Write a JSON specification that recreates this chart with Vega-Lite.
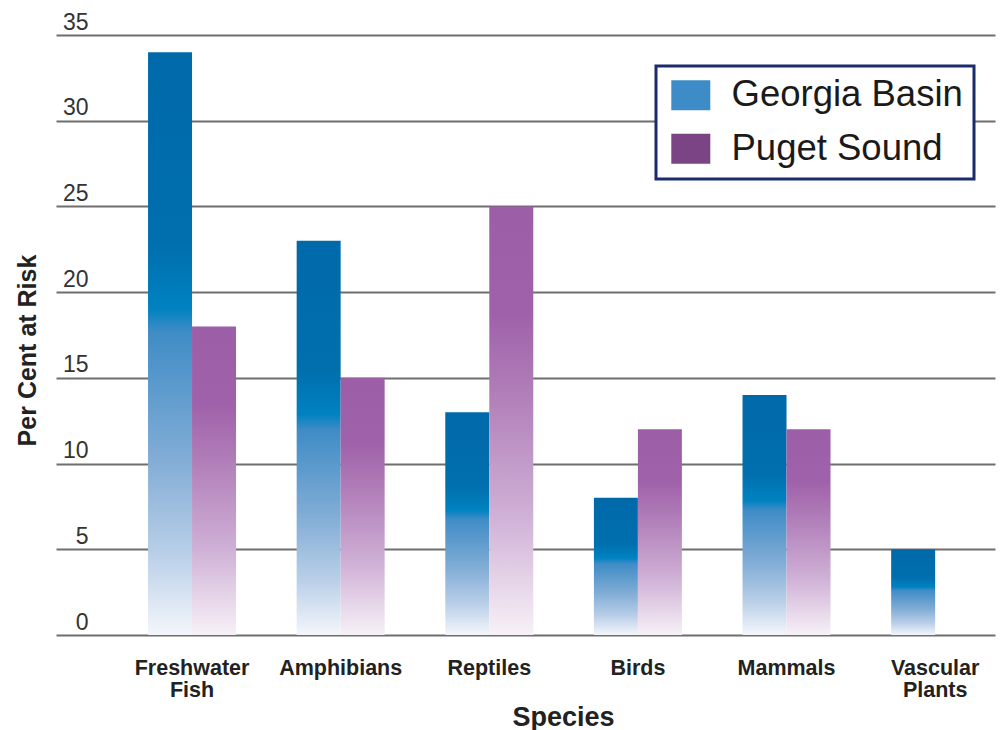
{
  "$schema": "https://vega.github.io/schema/vega-lite/v6.json",
  "width": 939,
  "height": 600,
  "autosize": {"type": "none"},
  "padding": {"left": 56, "top": 35, "right": 8, "bottom": 95},
  "background": "white",
  "config": {"view": {"stroke": null}, "font": "Liberation Sans"},
  "data": {
    "values": [
      {"species": "Freshwater Fish", "region": "Georgia Basin", "pct": 34},
      {"species": "Freshwater Fish", "region": "Puget Sound", "pct": 18},
      {"species": "Amphibians", "region": "Georgia Basin", "pct": 23},
      {"species": "Amphibians", "region": "Puget Sound", "pct": 15},
      {"species": "Reptiles", "region": "Georgia Basin", "pct": 13},
      {"species": "Reptiles", "region": "Puget Sound", "pct": 25},
      {"species": "Birds", "region": "Georgia Basin", "pct": 8},
      {"species": "Birds", "region": "Puget Sound", "pct": 12},
      {"species": "Mammals", "region": "Georgia Basin", "pct": 14},
      {"species": "Mammals", "region": "Puget Sound", "pct": 12},
      {"species": "Vascular Plants", "region": "Georgia Basin", "pct": 5}
    ]
  },
  "encoding": {
    "x": {
      "field": "species",
      "type": "nominal",
      "sort": ["Freshwater Fish", "Amphibians", "Reptiles", "Birds", "Mammals", "Vascular Plants"],
      "scale": {"paddingInner": 0.408, "paddingOuter": 0.363, "align": 0.853},
      "axis": {
        "title": "Species",
        "labelExpr": "split(datum.label, ' ')",
        "labelAngle": 0,
        "labelFontSize": 21.5,
        "labelFontWeight": "bold",
        "labelColor": "#222222",
        "labelPadding": 22,
        "labelBaseline": "top",
        "labelLineHeight": 22,
        "labelOverlap": false,
        "labelLimit": 300,
        "domain": false,
        "ticks": false,
        "tickSize": 0,
        "grid": false,
        "titleFontSize": 27,
        "titleFontWeight": "bold",
        "titleColor": "#222222",
        "titleX": 507,
        "titleY": 82,
        "titleBaseline": "middle",
        "titleAlign": "center"
      }
    },
    "xOffset": {
      "field": "region",
      "type": "nominal",
      "scale": {"domain": ["Georgia Basin", "Puget Sound"], "paddingInner": 0, "paddingOuter": 0}
    },
    "y": {
      "field": "pct",
      "type": "quantitative",
      "scale": {"domain": [0, 35], "nice": false},
      "axis": {
        "title": "Per Cent at Risk",
        "values": [0, 5, 10, 15, 20, 25, 30, 35],
        "grid": true,
        "gridColor": "#6e6e6e",
        "gridWidth": 2,
        "domain": false,
        "ticks": false,
        "tickSize": 0,
        "labelAlign": "right",
        "labelBaseline": "alphabetic",
        "labelPadding": -32,
        "labelOffset": -6,
        "labelFlush": false,
        "labelFontSize": 23,
        "labelColor": "#333333",
        "titleFontSize": 25,
        "titleFontWeight": "bold",
        "titleColor": "#222222",
        "titleX": -29,
        "titleY": 315,
        "titleAngle": -90,
        "titleBaseline": "middle",
        "titleAlign": "center"
      }
    }
  },
  "layer": [
    {
      "mark": {"type": "bar"},
      "encoding": {
        "color": {
          "condition": {
            "test": "datum.region === 'Georgia Basin'",
            "value": {
              "gradient": "linear", "x1": 0, "y1": 0, "x2": 0, "y2": 1,
              "stops": [
                {"offset": 0, "color": "#0069a9"},
                {"offset": 0.33, "color": "#006fae"},
                {"offset": 0.44, "color": "#0082c1"},
                {"offset": 0.48, "color": "#3f8cc6"},
                {"offset": 0.7, "color": "#82add6"},
                {"offset": 0.86, "color": "#b9cfe8"},
                {"offset": 1, "color": "#f4f6fb"}
              ]
            }
          },
          "value": {
            "gradient": "linear", "x1": 0, "y1": 0, "x2": 0, "y2": 1,
            "stops": [
              {"offset": 0, "color": "#9c5ea7"},
              {"offset": 0.25, "color": "#9f61a9"},
              {"offset": 0.43, "color": "#b07db8"},
              {"offset": 0.72, "color": "#cfb0d6"},
              {"offset": 1, "color": "#f7f1f7"}
            ]
          }
        }
      }
    },
    {
      "mark": {"type": "bar", "opacity": 0},
      "encoding": {
        "color": {
          "field": "region",
          "type": "nominal",
          "scale": {"domain": ["Georgia Basin", "Puget Sound"], "range": ["#3d8cc7", "#7a4485"]},
          "legend": {
            "title": null,
            "orient": "none",
            "legendX": 600,
            "legendY": 31,
            "direction": "vertical",
            "symbolType": "M-0.93,-1L1.67,-1L1.67,1L-0.93,1Z",
            "symbolSize": 900,
            "symbolOpacity": 1,
            "symbolStrokeWidth": 0,
            "labelFontSize": 36.5,
            "labelFont": "Liberation Sans",
            "labelColor": "#1a1a1a",
            "labelOffset": 28,
            "labelLimit": 400,
            "rowPadding": 16.5,
            "padding": 11,
            "strokeColor": "#1b2b6b",
            "fillColor": "white",
            "cornerRadius": 0,
            "encode": {"legend": {"update": {"strokeWidth": {"value": 3}}}}
          }
        }
      }
    }
  ]
}
